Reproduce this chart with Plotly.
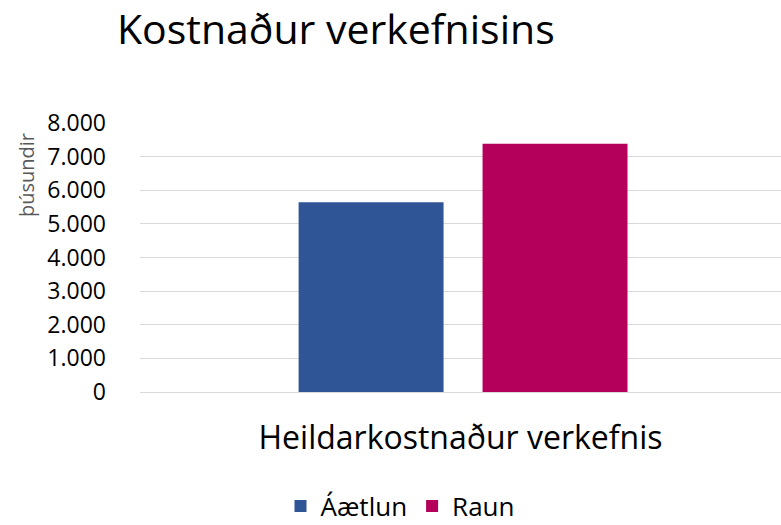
import plotly.graph_objects as go

categories = ["Heildarkostnaður verkefnis"]
series_names = ["Áætlun", "Raun"]
aaetlun = [5640]
raun = [7380]
colors = ["#2F5597", "#B5005B"]
yticks = [0, 1000, 2000, 3000, 4000, 5000, 6000, 7000, 8000]

FONT = "Open Sans"
W, H = 781, 525
L, T, B = 140, 123, 133
PW, PH = W - L, H - T - B

fig = go.Figure()
for name, vals, c in zip(series_names, [aaetlun, raun], colors):
    fig.add_trace(go.Bar(x=categories, y=vals, name=name, marker=dict(color=c, line=dict(width=0))))

fig.update_layout(
    width=W, height=H,
    margin=dict(l=L, r=0, t=T, b=B, autoexpand=False),
    plot_bgcolor="white", paper_bgcolor="white",
    separators=",.",
    barmode="group", bargap=0.426, bargroupgap=0.212,
    title=dict(text="Kostnaður verkefnisins", x=117/W, xanchor="left",
               y=1 - 30/H, yanchor="middle",
               font=dict(family=FONT, size=41, color="#000000")),
    showlegend=True,
    legend=dict(orientation="h", x=(400 - L)/PW, xanchor="center", y=(T + PH - 506)/PH, yanchor="middle",
                font=dict(family=FONT, size=26, color="#000000"),
                traceorder="normal"),
    font=dict(family=FONT, color="#000000"),
)
fig.update_xaxes(showgrid=False, showline=False, ticks="", showticklabels=False,
                 range=[-0.504, 0.496], automargin=False,
                 title=dict(text=categories[0], font=dict(family=FONT, size=32, color="#000000"), standoff=34))
fig.update_yaxes(range=[0, 8000], tickvals=yticks, tickformat=",d", automargin=False,
                 showgrid=True, gridcolor="#D9D9D9", gridwidth=1,
                 zeroline=True, zerolinecolor="#D9D9D9", zerolinewidth=1,
                 ticks="", ticklabelstandoff=33,
                 tickfont=dict(family=FONT, size=23, color="#000000"))
fig.add_annotation(text="þúsundir", xref="paper", yref="paper",
                   x=-(L - 26) / PW, y=(T + PH - 175) / PH, textangle=-90,
                   showarrow=False, xanchor="center", yanchor="middle",
                   font=dict(family=FONT, size=20, color="#595959"))

fig.write_html("out.html", config={"displayModeBar": False},
               post_script="document.body.style.margin='0';document.body.style.overflow='hidden';")
